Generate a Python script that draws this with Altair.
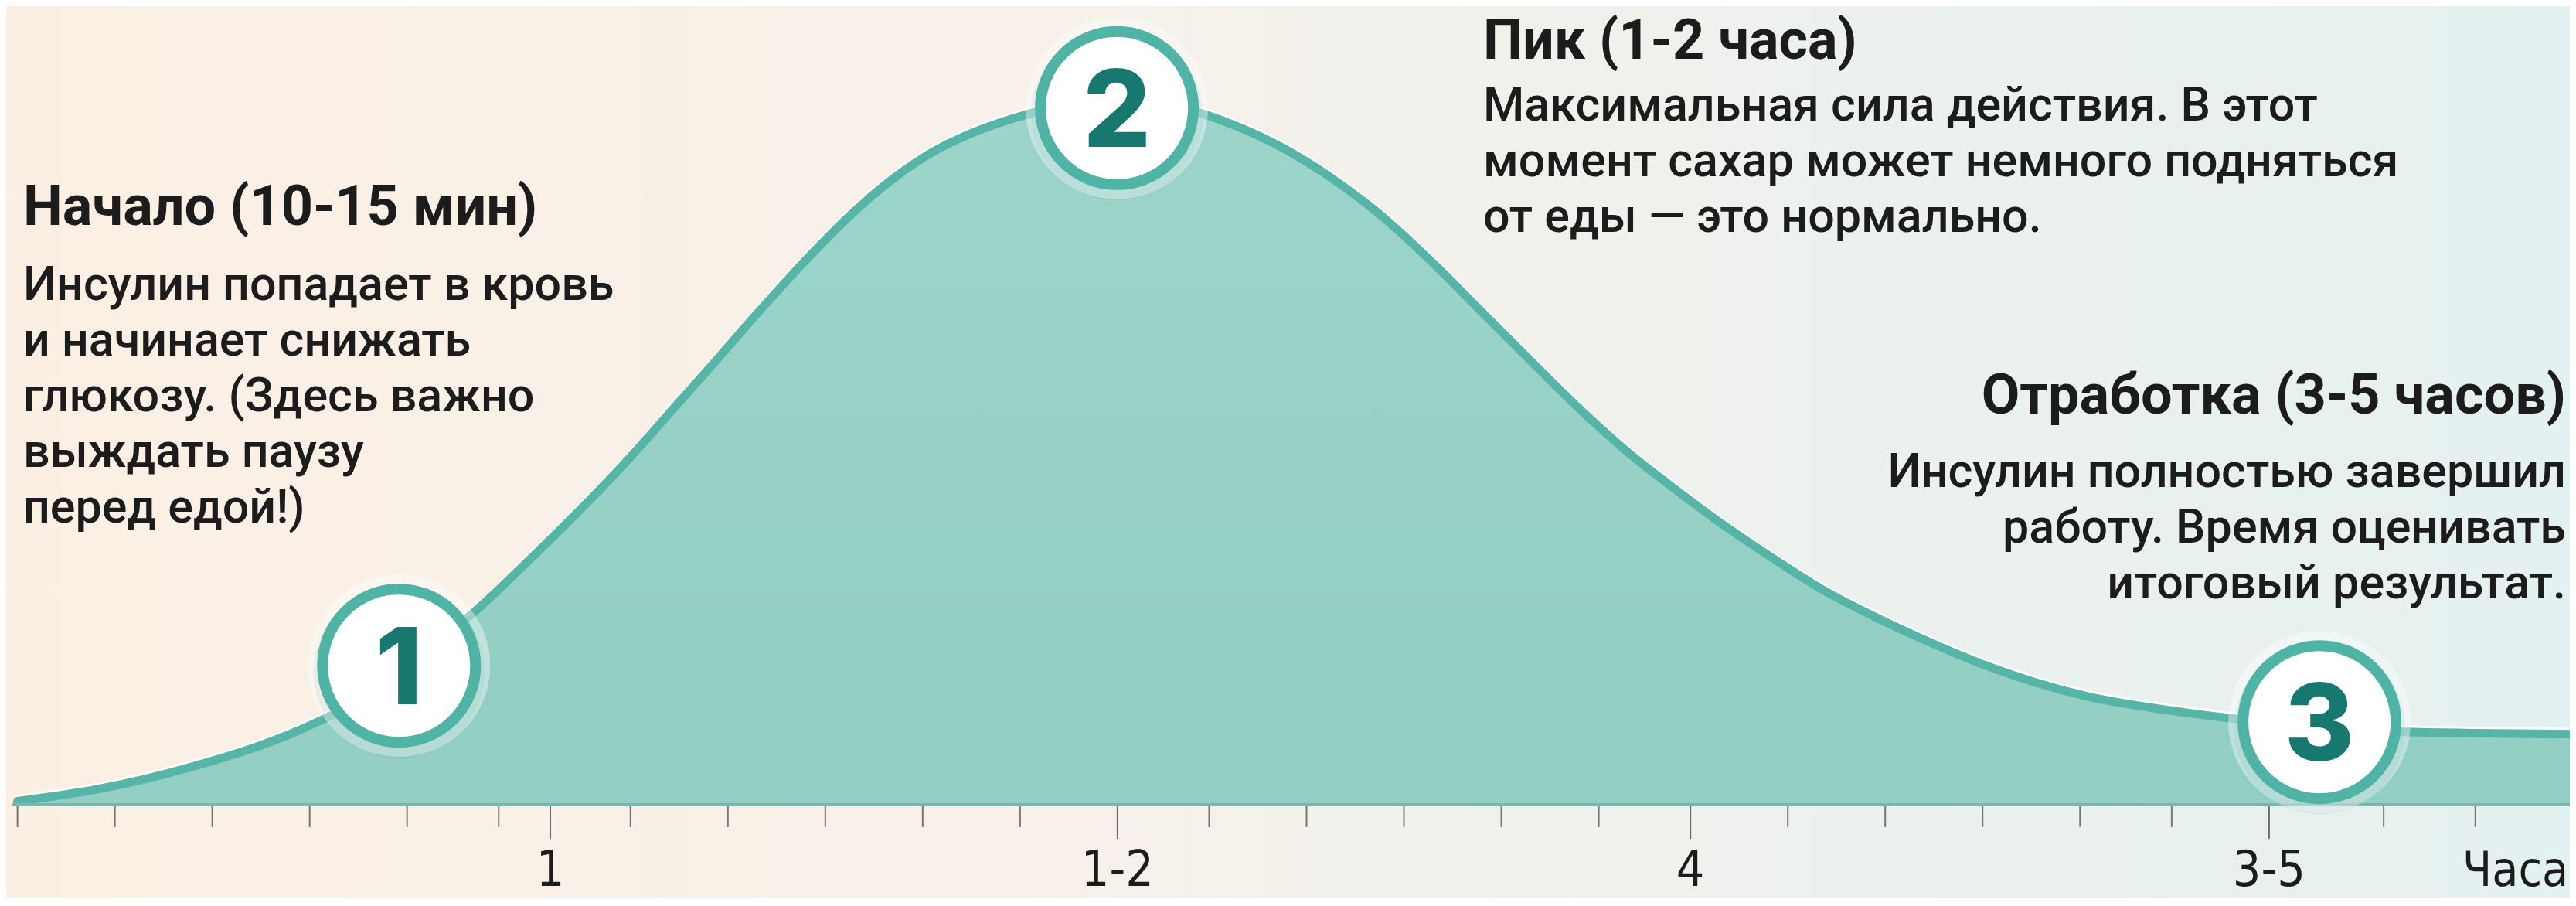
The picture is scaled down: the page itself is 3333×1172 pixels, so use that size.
import altair as alt
import pandas as pd

# ---------------- data ----------------
# insulin action curve: time index (t) and relative activity (%)
curve_t = [0.07, 0.21, 0.38, 0.56, 0.66, 0.74, 0.87, 0.98, 1.12, 1.23, 1.29, 1.36, 1.45,
           1.53, 1.60, 1.67, 1.74, 1.81, 1.90, 1.99, 2.06, 2.13, 2.19, 2.28, 2.36, 2.45,
           2.54, 2.62, 2.71, 2.79, 2.88, 2.97, 3.05, 3.14, 3.22, 3.31, 3.40, 3.50, 3.68,
           3.85, 4.08, 4.25, 4.54]
curve_v = [0.5, 2.2, 5.5, 10.5, 14.5, 19.0, 27.5, 36.0, 47.5, 57.5, 63.0, 69.5, 77.5,
           84.0, 88.8, 92.6, 95.3, 97.3, 99.1, 100.0, 99.3, 98.1, 96.4, 93.0, 89.0, 83.5,
           76.8, 70.3, 63.0, 56.6, 50.0, 44.3, 39.5, 34.6, 30.5, 26.7, 23.3, 19.9, 15.4,
           13.1, 11.1, 10.3, 10.0]

# numbered stage markers on the curve
stage_t = [0.736, 1.989, 4.088]
stage_v = [19.7, 98.7, 11.7]
stage_lbl = ["1", "2", "3"]

# axis ticks
minor_t = [0.07, 0.24, 0.41, 0.58, 0.75, 0.91, 1.14, 1.31, 1.48, 1.65, 1.82, 2.15,
           2.32, 2.49, 2.66, 2.83, 3.16, 3.33, 3.50, 3.67, 3.83, 4.20, 4.36, 4.53]
major_t = [1.0, 1.99, 2.99, 4.0]
major_lbl = ["1", "1-2", "4", "3-5"]
unit_t = [4.43]
unit_lbl = ["Часа"]

# annotations
left_title = "Начало (10-15 мин)"
left_body = ["Инсулин попадает в кровь", "и начинает снижать", "глюкозу. (Здесь важно",
             "выждать паузу", "перед едой!)"]
mid_title = "Пик (1-2 часа)"
mid_body = ["Максимальная сила действия. В этот", "момент сахар может немного подняться",
            "от еды — это нормально."]
right_title = "Отработка (3-5 часов)"
right_body = ["Инсулин полностью завершил", "работу. Время оценивать", "итоговый результат."]

# ---------------- styling ----------------
W, H = 3317, 1154
TEAL_LINE = "#57b5a7"
RING = "#4fb3a5"
DIGIT = "#16786f"
TEXT = "#1c1c1c"
BODY_FONT = "Roboto"
AXIS_FONT = "Liberation Sans Narrow, DejaVu Sans Condensed, Roboto"

xs = alt.Scale(domain=[0, 4.55], range=[-37.3, 3335.6])
ys = alt.Scale(domain=[0, 100], range=[1033, 120])

curve = pd.DataFrame({"t": curve_t, "v": curve_v})
stages = pd.DataFrame({"t": stage_t, "v": stage_v, "lbl": stage_lbl})
minor = pd.DataFrame({"t": minor_t})
major = pd.DataFrame({"t": major_t, "lbl": major_lbl})
unit = pd.DataFrame({"t": unit_t, "lbl": unit_lbl})
span = pd.DataFrame({"t0": [0.06], "t1": [4.55], "v": [0.0]})
frame = pd.DataFrame({"t0": [-0.2], "t1": [4.7], "v0": [-20.0], "v1": [120.0]})
one = pd.DataFrame({"a": [0]})

X = alt.X("t:Q", scale=xs, axis=None)
Y = alt.Y("v:Q", scale=ys, axis=None)

bg = alt.Chart(frame).mark_rect(
    color=alt.Gradient(
        gradient="linear",
        stops=[alt.GradientStop(color="#fcefe2", offset=0),
               alt.GradientStop(color="#f6f1ea", offset=0.45),
               alt.GradientStop(color="#e3f1f2", offset=1)],
        x1=0, x2=1, y1=0, y2=0)
).encode(x=alt.X("t0:Q", scale=xs, axis=None), x2="t1:Q",
         y=alt.Y("v0:Q", scale=ys, axis=None), y2="v1:Q")

area = alt.Chart(curve).mark_area(
    interpolate="monotone",
    color=alt.Gradient(
        gradient="linear",
        stops=[alt.GradientStop(color="#9cd4c9", offset=0),
               alt.GradientStop(color="#92cec3", offset=1)],
        x1=0, x2=0, y1=0, y2=1)
).encode(x=X, y=Y)

line = alt.Chart(curve).mark_line(
    interpolate="monotone", color=TEAL_LINE, strokeWidth=11, strokeCap="round"
).encode(x=X, y=Y)

gloss = alt.Chart(curve).mark_line(
    interpolate="monotone", color="#ffffff", strokeWidth=3, opacity=0.85, yOffset=-7
).encode(x=X, y=Y)

baseline = alt.Chart(span).mark_rule(color="#82b2aa", strokeWidth=4).encode(
    x=alt.X("t0:Q", scale=xs, axis=None), x2="t1:Q", y=Y)

minor_ticks = alt.Chart(minor).mark_rule(color="#767676", strokeWidth=2).encode(
    x=X, y=alt.value(1035), y2=alt.value(1062))
major_ticks = alt.Chart(major).mark_rule(color="#6a6a6a", strokeWidth=2).encode(
    x=X, y=alt.value(1035), y2=alt.value(1077))

tick_lbl = alt.Chart(major).mark_text(
    font=AXIS_FONT, fontSize=64, color=TEXT, baseline="alphabetic", align="center"
).encode(x=X, y=alt.value(1138), text="lbl:N")
unit_txt = alt.Chart(unit).mark_text(
    font=AXIS_FONT, fontSize=62, color=TEXT, baseline="alphabetic", align="center"
).encode(x=X, y=alt.value(1138), text="lbl:N")

halo = alt.Chart(stages).mark_circle(color="#ffffff", opacity=0.4, size=236 ** 2).encode(x=X, y=Y)
shadow = alt.Chart(stages).mark_circle(color="#3f8f85", opacity=0.15, size=222 ** 2, yOffset=8).encode(x=X, y=Y)
rings = alt.Chart(stages).mark_circle(
    fill="#ffffff", fillOpacity=1, opacity=1, stroke=RING, strokeWidth=14, size=198 ** 2
).encode(x=X, y=Y)
digits = alt.Chart(stages).mark_text(
    font="Inter", fontWeight=800, fontSize=138, color=DIGIT, baseline="alphabetic",
    align="center", dy=50
).encode(x=X, y=Y, text="lbl:N")


def block(title, body, x, y_title, y_body, align, lh):
    t = alt.Chart(one).mark_text(
        font=BODY_FONT, fontWeight="bold", fontSize=72, color=TEXT,
        align=align, baseline="alphabetic", text=title
    ).encode(x=alt.value(x), y=alt.value(y_title))
    b = alt.Chart(one).mark_text(
        font=BODY_FONT, fontWeight=500, fontSize=61, color=TEXT, align=align,
        baseline="alphabetic", lineHeight=lh, text=body
    ).encode(x=alt.value(x), y=alt.value(y_body))
    return [t, b]


texts = (block(left_title, left_body, 22, 283, 380, "left", 72)
         + block(mid_title, mid_body, 1911, 68, 148, "left", 72)
         + block(right_title, right_body, 3312, 527, 622, "right", 72))

chart = alt.layer(
    bg, area, gloss, line, baseline, minor_ticks, major_ticks, tick_lbl, unit_txt,
    shadow, halo, rings, digits, *texts
).properties(
    width=W, height=H, padding=0,
    autosize=alt.AutoSizeParams(type="none"),
    background="#f5f1eb"
).configure_view(stroke="transparent")

chart.save("out.html", embed_options={"renderer": "svg", "actions": False})
